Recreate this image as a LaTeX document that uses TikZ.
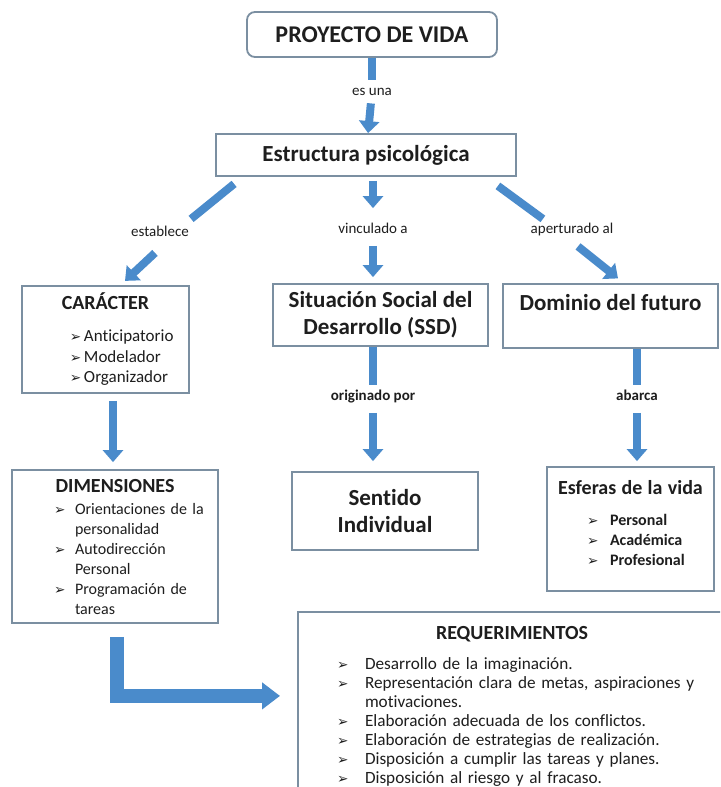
\documentclass[tikz,border=0pt]{standalone}
\usepackage{fontspec}
\setmainfont{Carlito}[Ligatures=NoCommon]
\newfontfamily\symfont{DejaVu Sans}
\usepackage{xcolor}
\usetikzlibrary{positioning,arrows.meta}

\definecolor{arrowblue}{HTML}{4A8BCB}
\definecolor{boxline}{HTML}{7B8FA1}
\definecolor{txt}{HTML}{1E1E1E}

% bullet, list item (indent, gap, text) and continuation line
\newcommand{\itm}{{\symfont\fontsize{6.8}{7}\selectfont ➢}}
\newcommand{\li}[3]{\hspace*{#1}\makebox[#2][l]{\itm}#3}
\newcommand{\lc}[2]{\hspace*{#1}#2}
\newcommand{\ttl}[1]{\makebox[\linewidth]{\bfseries\fontsize{10}{12}\selectfont #1}}

\begin{document}
\begin{tikzpicture}[x=0.5pt, y=-0.5pt,
  box/.style={draw=boxline, line width=0.9pt, fill=white, text=txt, inner sep=0pt,
    align=center, font=\fontsize{11.5}{13.5}\selectfont\bfseries},
  listbox/.style={box, align=left, font=\fontsize{8.5}{10.25}\selectfont},
  lbl/.style={text=txt, font=\fontsize{7.5}{9}\selectfont, text height=5pt, text depth=1.5pt,
    inner xsep=1pt, inner ysep=2.5pt},
  shaft/.style={arrowblue, line width=4pt},
  flow/.style={shaft, -{Triangle[width=10pt,length=6pt]}},
  bigflow/.style={arrowblue, line width=7pt, line join=miter, -{Triangle[width=13pt,length=9pt]}}]
\useasboundingbox (0,0) rectangle (720,787);
\clip (0,0) rectangle (720,787);
\fill[white] (0,0) rectangle (720,787);

% boxes
\node[box, rounded corners=4pt, minimum width=125pt, minimum height=22.5pt,
  font=\fontsize{12}{14}\selectfont\bfseries] (proy) at (372,34.5) {PROYECTO DE VIDA};
\node[box, minimum width=150pt, minimum height=21pt] (estr) at (366,155) {Estructura psicológica};
\node[listbox, text width=83.5pt, minimum height=53.5pt] (car) at (105.5,339.5) {%
  \ttl{CARÁCTER}\\[5.75pt]
  \li{24pt}{7pt}{Anticipatorio}\\
  \li{24pt}{7pt}{Modelador}\\
  \li{24pt}{7pt}{Organizador}};
\node[box, minimum width=107.5pt, minimum height=31pt] (ssd) at (380.5,315) {Situación Social del\\Desarrollo (SSD)};
\node[box, minimum width=107.5pt, minimum height=32pt] (dom) at (610.5,316) {Dominio del futuro\\\mbox{}};
\node[box, minimum width=93pt, minimum height=39pt] (sent) at (385,511) {Sentido\\Individual};
\node[listbox, text width=103pt, minimum height=76.5pt, font=\fontsize{8}{10}\selectfont] (dim) at (115,546.5) {%
  \ttl{DIMENSIONES}\\[1pt]
  \li{21pt}{10.5pt}{Orientaciones de la}\\
  \lc{31.5pt}{personalidad}\\
  \li{21pt}{10.5pt}{Autodirección}\\
  \lc{31.5pt}{Personal}\\
  \li{21pt}{10.5pt}{Programación de}\\
  \lc{31.5pt}{tareas}};
\node[listbox, text width=83.5pt, minimum height=62pt, font=\fontsize{8}{10}\selectfont\bfseries] (esf) at (630.5,529) {%
  \ttl{Esferas de la vida}\\[5.5pt]
  \li{20pt}{11.5pt}{Personal}\\
  \li{20pt}{11.5pt}{Académica}\\
  \li{20pt}{11.5pt}{Profesional}\\[-4pt]\mbox{}};
\node[listbox, text width=214pt, inner ysep=7pt, anchor=north, font=\fontsize{8.6}{9.5}\selectfont] (req) at (512,611) {%
  \ttl{REQUERIMIENTOS}\\[5.5pt]
  \li{19.5pt}{14pt}{Desarrollo de la imaginación.}\\
  \li{19.5pt}{14pt}{Representación clara de metas, aspiraciones y}\\
  \lc{33.5pt}{motivaciones.}\\
  \li{19.5pt}{14pt}{Elaboración adecuada de los conflictos.}\\
  \li{19.5pt}{14pt}{Elaboración de estrategias de realización.}\\
  \li{19.5pt}{14pt}{Disposición a cumplir las tareas y planes.}\\
  \li{19.5pt}{14pt}{Disposición al riesgo y al fracaso.}};

% link labels
\node[lbl] (esuna) at (372,91.5) {es una};
\node[lbl] (est) at (160,233) {establece};
\node[lbl] (vinc) at (373,230) {vinculado a};
\node[lbl] (aper) at (572,230) {aperturado al};
\node[lbl, font=\fontsize{7.5}{9}\selectfont\bfseries] (orig) at (373,397) {originado por};
\node[lbl, font=\fontsize{7.5}{9}\selectfont\bfseries] (abar) at (637,397) {abarca};

% arrows
\draw[shaft] (proy) -- (esuna);
\draw[flow] (esuna) -- (estr);
\draw[shaft] ([shift={(19,7)}]estr.south west) -- ++(-43,35);
\draw[flow] ([shift={(-5,8)}]est.south) -- ++(-30,28);
\draw[flow, shorten <=2pt, shorten >=5pt] (vinc |- estr.south) -- (vinc);
\draw[flow, shorten <=2pt, shorten >=3pt] (vinc) -- (vinc |- ssd.north);
\draw[shaft] ([shift={(-19,9)}]estr.south east) -- ++(45,33);
\draw[flow] ([shift={(6,4.5)}]aper.south) -- ++(40,32);
\draw[flow, shorten <=3.5pt, shorten >=3.5pt] ([xshift=3.75pt]car.south) -- ([xshift=-1pt]dim.north);
\draw[shaft] (orig |- ssd.south) -- (orig);
\draw[flow, shorten <=2pt, shorten >=5pt] (orig) -- (orig |- sent.north);
\draw[shaft] (abar |- dom.south) -- (abar);
\draw[flow, shorten <=2pt, shorten >=2.5pt] (abar) -- (abar |- esf.north);
\draw[bigflow] ([shift={(2,13)}]dim.south) |- ++(163,59);
\end{tikzpicture}
\end{document}
